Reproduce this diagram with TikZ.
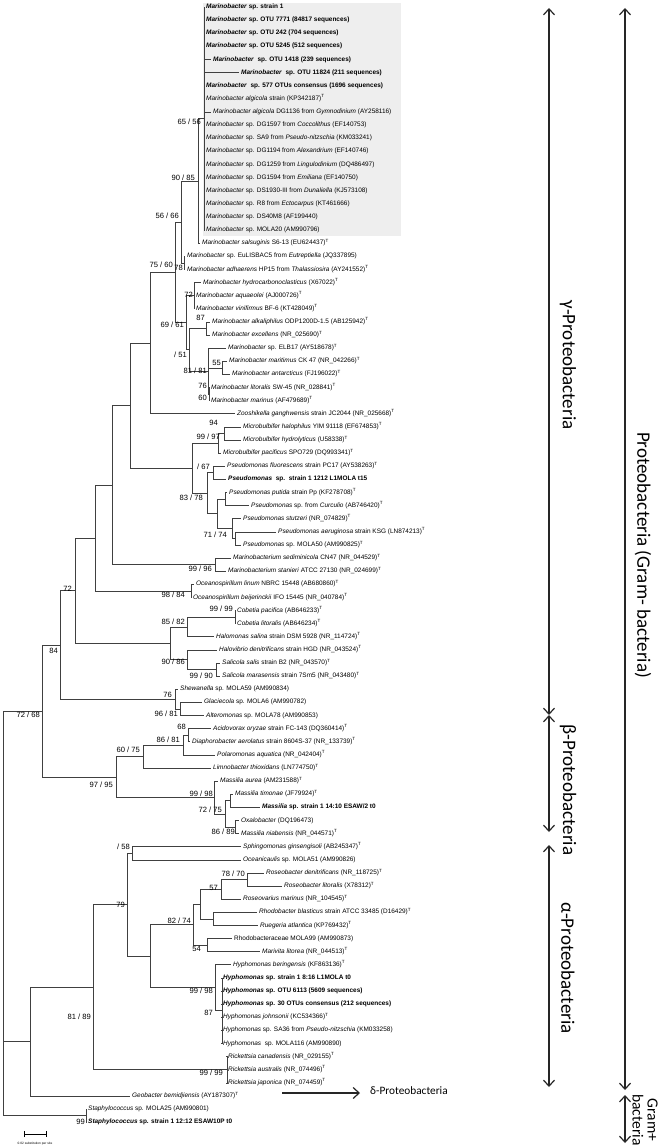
\documentclass[tikz,border=0pt]{standalone}
\usepackage{fontspec}
\setmainfont{Liberation Sans}
\newfontfamily\carl{Carlito}
\usetikzlibrary{arrows.meta}
\newcommand\tp{\textsuperscript{T}}
\newcommand\lf[3]{\node[leaf] (l#1) at (#2,#1) {#3}; \coordinate (t#1) at ([xshift=-1.6pt]l#1.west);}
\newcommand\bv[4]{\node[bsv] (#1) at (#2,#3) {#4};}
\tikzset{
  leaf/.style={anchor=west, inner sep=0pt, text height=4.6pt, text depth=1.4pt, font=\fontsize{6.45}{7}\selectfont},
  bsv/.style={anchor=east, inner sep=0pt, font=\fontsize{7.6}{8}\selectfont},
  br/.style={line width=0.55pt, draw=black!75},
  grp/.style={line width=1.2pt, draw=black!85, {Straight Barb[length=6pt,width=11pt]}-{Straight Barb[length=6pt,width=11pt]}},
  grplab/.style={font=\carl\fontsize{19}{20}\selectfont, rotate=-90, inner sep=0pt}
}
\begin{document}
\begin{tikzpicture}[x=1pt,y=-1pt]
\useasboundingbox (0,0) rectangle (666,1148);
\fill[gray!13] (203,3) rectangle (401,236);
\begin{scope}[y=-13.12pt, yshift=6.12pt]
\lf{1}{206}{\textbf{\textit{Marinobacter} sp. strain 1}}
\lf{2}{206}{\textbf{\textit{Marinobacter} sp. OTU 7771 (84817 sequences)}}
\lf{3}{206}{\textbf{\textit{Marinobacter} sp. OTU 242 (704 sequences)}}
\lf{4}{206}{\textbf{\textit{Marinobacter} sp. OTU 5245 (512 sequences)}}
\lf{5}{213}{\textbf{\textit{Marinobacter}\ \ sp. OTU 1418 (239 sequences)}}
\lf{6}{241}{\textbf{\textit{Marinobacter}\ \ sp. OTU 11824 (211 sequences)}}
\lf{7}{206}{\textbf{\textit{Marinobacter}\ \ sp. 577 OTUs consensus (1696 sequences)}}
\lf{8}{206}{\textit{Marinobacter algicola} strain (KP342187)\tp}
\lf{9}{213}{\textit{Marinobacter algicola} DG1136 from \textit{Gymnodinium} (AY258116)}
\lf{10}{206}{\textit{Marinobacter} sp. DG1597 from \textit{Coccolithus} (EF140753)}
\lf{11}{206}{\textit{Marinobacter} sp. SA9 from \textit{Pseudo-nitzschia} (KM033241)}
\lf{12}{206}{\textit{Marinobacter} sp. DG1194 from \textit{Alexandrium} (EF140746)}
\lf{13}{206}{\textit{Marinobacter} sp. DG1259 from \textit{Lingulodinium} (DQ486497)}
\lf{14}{206}{\textit{Marinobacter} sp. DG1594 from \textit{Emiliana} (EF140750)}
\lf{15}{206}{\textit{Marinobacter} sp. DS1930-III from \textit{Dunaliella} (KJ573108)}
\lf{16}{206}{\textit{Marinobacter} sp. R8 from \textit{Ectocarpus} (KT461666)}
\lf{17}{206}{\textit{Marinobacter} sp. DS40M8 (AF199440)}
\lf{18}{206}{\textit{Marinobacter} sp. MOLA20 (AM990796)}
\lf{19}{202}{\textit{Marinobacter salsuginis} S6-13 (EU624437)\tp}
\lf{20}{187}{\textit{Marinobacter} sp. EuLISBAC5 from \textit{Eutreptiella} (JQ337895)}
\lf{21}{187}{\textit{Marinobacter adhaerens} HP15 from \textit{Thalassiosira} (AY241552)\tp}
\lf{22}{203}{\textit{Marinobacter hydrocarbonoclasticus} (X67022)\tp}
\lf{23}{196}{\textit{Marinobacter aquaeolei} (AJ000726)\tp}
\lf{24}{196}{\textit{Marinobacter vinifirmus} BF-6 (KT428049)\tp}
\lf{25}{212}{\textit{Marinobacter alkaliphilus} ODP1200D-1.5 (AB125942)\tp}
\lf{26}{212}{\textit{Marinobacter excellens} (NR\_025690)\tp}
\lf{27}{228}{\textit{Marinobacter} sp. ELB17 (AY518678)\tp}
\lf{28}{229}{\textit{Marinobacter maritimus} CK 47 (NR\_042266)\tp}
\lf{29}{232}{\textit{Marinobacter antarcticus} (FJ196022)\tp}
\lf{30}{211}{\textit{Marinobacter litoralis} SW-45 (NR\_028841)\tp}
\lf{31}{211}{\textit{Marinobacter marinus} (AF479689)\tp}
\lf{32}{237}{\textit{Zooshikella ganghwensis} strain JC2044 (NR\_025668)\tp}
\lf{33}{243}{\textit{Microbulbifer halophilus} YIM 91118 (EF674853)\tp}
\lf{34}{243}{\textit{Microbulbifer hydrolyticus} (U58338)\tp}
\lf{35}{223}{\textit{Microbulbifer pacificus} SPO729 (DQ993341)\tp}
\lf{36}{227}{\textit{Pseudomonas fluorescens} strain PC17 (AY538263)\tp}
\lf{37}{228}{\textbf{\textit{Pseudomonas}\ \ sp.\ \ strain 1 1212 L1MOLA t15}}
\lf{38}{229}{\textit{Pseudomonas putida} strain Pp (KF278708)\tp}
\lf{39}{251}{\textit{Pseudomonas} sp. from \textit{Curculio} (AB746420)\tp}
\lf{40}{243}{\textit{Pseudomonas stutzeri} (NR\_074829)\tp}
\lf{41}{278}{\textit{Pseudomonas aeruginosa} strain KSG (LN874213)\tp}
\lf{42}{243}{\textit{Pseudomonas} sp. MOLA50 (AM990825)\tp}
\lf{43}{233}{\textit{Marinobacterium sediminicola} CN47 (NR\_044529)\tp}
\lf{44}{228}{\textit{Marinobacterium stanieri} ATCC 27130 (NR\_024699)\tp}
\lf{45}{196}{\textit{Oceanospirillum linum} NBRC 15448 (AB680860)\tp}
\lf{46}{193}{\textit{Oceanospirillum beijerinckii} IFO 15445 (NR\_040784)\tp}
\lf{47}{237}{\textit{Cobetia pacifica} (AB646233)\tp}
\lf{48}{237}{\textit{Cobetia litoralis} (AB646234)\tp}
\lf{49}{216}{\textit{Halomonas salina} strain DSM 5928 (NR\_114724)\tp}
\lf{50}{219}{\textit{Halovibrio denitrificans} strain HGD (NR\_043524)\tp}
\lf{51}{222}{\textit{Salicola salis} strain B2 (NR\_043570)\tp}
\lf{52}{222}{\textit{Salicola marasensis} strain 7Sm5 (NR\_043480)\tp}
\lf{53}{180}{\textit{Shewanella} sp. MOLA59 (AM990834)}
\lf{54}{204}{\textit{Glaciecola} sp. MOLA6 (AM990782)}
\lf{55}{206}{\textit{Alteromonas} sp. MOLA78 (AM990853)}
\lf{56}{213}{\textit{Acidovorax oryzae} strain FC-143 (DQ360414)\tp}
\lf{57}{192}{\textit{Diaphorobacter aerolatus} strain 8604S-37 (NR\_133739)\tp}
\lf{58}{217}{\textit{Polaromonas aquatica} (NR\_042404)\tp}
\lf{59}{213}{\textit{Limnobacter thioxidans} (LN774750)\tp}
\lf{60}{220}{\textit{Massilia aurea} (AM231588)\tp}
\lf{61}{235}{\textit{Massilia timonae} (JF79924)\tp}
\lf{62}{262}{\textbf{\textit{Massilia} sp. strain 1 14:10 ESAW/2 t0}}
\lf{63}{241}{\textit{Oxalobacter} (DQ196473)}
\lf{64}{241}{\textit{Massilia niabensis} (NR\_044571)\tp}
\lf{65}{243}{\textit{Sphingomonas ginsengisoli} (AB245347)\tp}
\lf{66}{243}{\textit{Oceanicaulis} sp. MOLA51 (AM990826)}
\lf{67}{266}{\textit{Roseobacter denitrificans} (NR\_118725)\tp}
\lf{68}{284}{\textit{Roseobacter litoralis} (X78312)\tp}
\lf{69}{243}{\textit{Roseovarius marinus} (NR\_104545)\tp}
\lf{70}{259}{\textit{Rhodobacter blasticus} strain ATCC 33485 (D16429)\tp}
\lf{71}{260}{\textit{Ruegeria atlantica} (KP769432)\tp}
\lf{72}{234}{Rhodobacteraceae MOLA99 (AM990873)}
\lf{73}{262}{\textit{Marivita litorea} (NR\_044513)\tp}
\lf{74}{233}{\textit{Hyphomonas beringensis} (KF863136)\tp}
\lf{75}{223}{\textbf{\textit{Hyphomonas} sp. strain 1 8:16 L1MOLA t0}}
\lf{76}{223}{\textbf{\textit{Hyphomonas} sp. OTU 6113 (5609 sequences)}}
\lf{77}{223}{\textbf{\textit{Hyphomonas} sp. 30 OTUs consensus (212 sequences)}}
\lf{78}{223}{\textit{Hyphomonas johnsonii} (KC534366)\tp}
\lf{79}{223}{\textit{Hyphomonas} sp. SA36 from \textit{Pseudo-nitzschia} (KM033258)}
\lf{80}{223}{\textit{Hyphomonas}\ \ sp. MOLA116 (AM990890)}
\lf{81}{228}{\textit{Rickettsia canadensis} (NR\_029155)\tp}
\lf{82}{228}{\textit{Rickettsia australis} (NR\_074496)\tp}
\lf{83}{228}{\textit{Rickettsia japonica} (NR\_074459)\tp}
\lf{84}{132}{\textit{Geobacter bemidjiensis} (AY187307)\tp}
\lf{85}{88}{\textit{Staphylococcus} sp. MOLA25 (AM990801)}
\lf{86}{88}{\textbf{\textit{Staphylococcus} sp. strain 1 12:12 ESAW10P t0}}
% internal nodes
\coordinate (A) at (204,9.5);
\coordinate (B) at (198,14.25);
\coordinate (C) at (184,20.5);
\coordinate (D) at (181,17.375);
\coordinate (G) at (194,23);
\coordinate (K) at (206,25.5);
\coordinate (L) at (222,28.5);
\coordinate (M) at (209,30.5);
\coordinate (O) at (208,28.75);
\coordinate (P) at (189,27.125);
\coordinate (Q) at (186,25.0625);
\coordinate (F) at (175,21.219);
\coordinate (R) at (224,33.5);
\coordinate (S) at (218,34.25);
\coordinate (T) at (213,36.5);
\coordinate (W) at (225,38.5);
\coordinate (Y) at (235,41.5);
\coordinate (X) at (232,40.75);
\coordinate (V) at (217,39.625);
\coordinate (U) at (207,38.0625);
\coordinate (Z) at (215,43.5);
\coordinate (AA) at (191,45.5);
\coordinate (BB) at (235,47.5);
\coordinate (CC) at (187,48.25);
\coordinate (DD) at (216,51.5);
\coordinate (EE) at (187,50.75);
\coordinate (FF) at (170,49.5);
\coordinate (Alt1) at (180,54.5);
\coordinate (Alt2) at (175,53.75);
\coordinate (na) at (150,26.61);
\coordinate (g2) at (192,36.156);
\coordinate (nb) at (130,31.383);
\coordinate (nc) at (112,37.44);
\coordinate (nd) at (95,41.47);
\coordinate (ne) at (75,45.485);
\coordinate (gam) at (60,49.62);
\coordinate (Ac) at (188,56.5);
\coordinate (Pb) at (183,57.25);
\coordinate (Lb) at (143,58.125);
\coordinate (Ma1) at (230,61.5);
\coordinate (Ox) at (235,63.5);
\coordinate (Ma2) at (225,62.5);
\coordinate (Ma3) at (214,61.25);
\coordinate (bet) at (116,59.69);
\coordinate (N1) at (42,54.655);
\coordinate (Sp) at (132,65.5);
\coordinate (Ros1) at (247,67.5);
\coordinate (Ros2) at (221,68.25);
\coordinate (Rh1) at (213,70.5);
\coordinate (Rh2) at (200,69.375);
\coordinate (Mv) at (207,72.5);
\coordinate (Rh3) at (193,70.94);
\coordinate (Hy1) at (222,77.5);
\coordinate (Hy2) at (215,75.75);
\coordinate (Al1) at (150,73.34);
\coordinate (Al79) at (127,69.42);
\coordinate (Rk) at (227,82);
\coordinate (N4) at (93,75.71);
\coordinate (N0) at (30,79.86);
\coordinate (St) at (86,85.5);
\coordinate (root) at (3,70);
\foreach \p/\c in {A/t1,A/t2,A/t3,A/t4,A/t5,A/t6,A/t7,A/t8,A/t9,A/t10,A/t11,A/t12,A/t13,A/t14,A/t15,A/t16,A/t17,A/t18,
  B/A,B/t19,C/t20,C/t21,D/B,D/C,G/t22,G/t23,G/t24,K/t25,K/t26,L/t28,L/t29,M/t30,M/t31,O/t27,O/L,O/M,P/K,P/O,Q/G,Q/P,F/D,F/Q,
  R/t33,R/t34,S/R,S/t35,T/t36,T/t37,W/t38,W/t39,Y/t41,Y/t42,X/t40,X/Y,V/W,V/X,U/T,U/V,Z/t43,Z/t44,AA/t45,AA/t46,
  BB/t47,BB/t48,CC/BB,CC/t49,DD/t51,DD/t52,EE/t50,EE/DD,FF/CC,FF/EE,Alt1/t54,Alt1/t55,Alt2/t53,Alt2/Alt1,
  na/F,na/t32,g2/S,g2/U,nb/na,nb/g2,nc/nb,nc/Z,nd/nc,nd/AA,ne/nd,ne/FF,gam/ne,gam/Alt2,
  Ac/t56,Ac/t57,Pb/Ac,Pb/t58,Lb/Pb,Lb/t59,Ma1/t61,Ma1/t62,Ox/t63,Ox/t64,Ma2/Ma1,Ma2/Ox,Ma3/t60,Ma3/Ma2,bet/Lb,bet/Ma3,N1/gam,N1/bet,
  Sp/t65,Sp/t66,Ros1/t67,Ros1/t68,Ros2/Ros1,Ros2/t69,Rh1/t70,Rh1/t71,Rh2/Ros2,Rh2/Rh1,Mv/t72,Mv/t73,Rh3/Rh2,Rh3/Mv,
  Hy1/t75,Hy1/t76,Hy1/t77,Hy1/t78,Hy1/t79,Hy1/t80,Hy2/t74,Hy2/Hy1,Al1/Rh3,Al1/Hy2,Al79/Sp,Al79/Al1,Rk/t81,Rk/t82,Rk/t83,
  N4/Al79,N4/Rk,N0/N4,N0/t84,St/t85,St/t86,root/N1,root/N0,root/St}
  \draw[br] (\p) |- (\c);
\end{scope}
% bootstrap values
\bv{b1}{201}{122}{65 / 56}
\bv{b2}{195}{178}{90 / 85}
\bv{b3}{179}{216}{56 / 66}
\bv{b4}{173}{265}{75 / 60}
\bv{b5}{183}{268}{78}
\bv{b6}{193}{295}{72}
\bv{b7}{184}{325}{69 / 61}
\bv{b8}{205}{318}{87}
\bv{b9}{187}{355}{/ 51}
\bv{b10}{221}{363}{55}
\bv{b11}{207}{371}{81 / 81}
\bv{b12}{207}{386}{76}
\bv{b13}{207}{398}{60}
\bv{b14}{218}{423}{94}
\bv{b15}{220}{437}{99 / 97}
\bv{b16}{210}{467}{/ 67}
\bv{b17}{203}{498}{83 / 78}
\bv{b18}{227}{535}{71 / 74}
\bv{b19}{212}{569}{99 / 96}
\bv{b20}{185}{595}{98 / 84}
\bv{b21}{233}{609}{99 / 99}
\bv{b22}{185}{622}{85 / 82}
\bv{b23}{72}{589}{72}
\bv{b24}{58}{651}{84}
\bv{b25}{185}{662}{90 / 86}
\bv{b26}{213}{676}{99 / 90}
\bv{b27}{172}{695}{76}
\bv{b28}{178}{714}{96 / 81}
\bv{b29}{40}{715}{72 / 68}
\bv{b30}{186}{727}{68}
\bv{b31}{180}{740}{86 / 81}
\bv{b32}{140}{750}{60 / 75}
\bv{b33}{113}{785}{97 / 95}
\bv{b34}{213}{794}{99 / 98}
\bv{b35}{222}{810}{72 / 75}
\bv{b36}{235}{832}{86 / 89}
\bv{b37}{130}{847}{/ 58}
\bv{b38}{245}{874}{78 / 70}
\bv{b39}{218}{888}{57}
\bv{b40}{125}{905}{79}
\bv{b41}{191}{921}{82 / 74}
\bv{b42}{201}{949}{54}
\bv{b43}{213}{991}{99 / 98}
\bv{b44}{213}{1013}{87}
\bv{b45}{91}{1017}{81 / 89}
\bv{b46}{223}{1073}{99 / 99}
\bv{b47}{85}{1122}{99}
% scale bar
\coordinate (s1) at (24,1134); \coordinate (s2) at (47,1134);
\draw[line width=0.8pt, |-|] (s1) -- (s2);
\node[font=\fontsize{3.2}{4}\selectfont, inner sep=0pt] (sl) at (35,1144) {0.02 substitution per site};
% group arrows
\coordinate (gT) at (549,8); \coordinate (gB) at (549,715);
\coordinate (bT) at (549,715); \coordinate (bB) at (549,832);
\coordinate (aT) at (549,845); \coordinate (aB) at (549,1087);
\coordinate (pT) at (625,8); \coordinate (pB) at (625,1090);
\coordinate (gpT) at (625,1095); \coordinate (gpB) at (625,1143);
\draw[grp] (gT) -- (gB);
\draw[grp] (bT) -- (bB);
\draw[grp] (aT) -- (aB);
\draw[grp] (pT) -- (pB);
\draw[grp] (gpT) -- (gpB);
\node[grplab] (gl) at (568,365) {γ-Proteobacteria};
\node[grplab] (bl) at (568,790) {β-Proteobacteria};
\node[grplab] (al) at (568,968) {α-Proteobacteria};
\node[grplab] (pl) at (643,555) {Proteobacteria (Gram- bacteria)};
\node[grplab, font=\carl\fontsize{15.5}{15}\selectfont, align=center] (gpl) at (645,1120) {Gram+\\bacteria};
\coordinate (dA) at (282,1093); \coordinate (dB) at (360,1093);
\draw[line width=1.2pt, draw=black!85, -{Straight Barb[length=6pt,width=11pt]}] (dA) -- (dB);
\node[font=\carl\fontsize{11.3}{12}\selectfont, anchor=west, inner sep=0pt] (dl) at (370,1091) {δ-Proteobacteria};
\end{tikzpicture}
\end{document}
